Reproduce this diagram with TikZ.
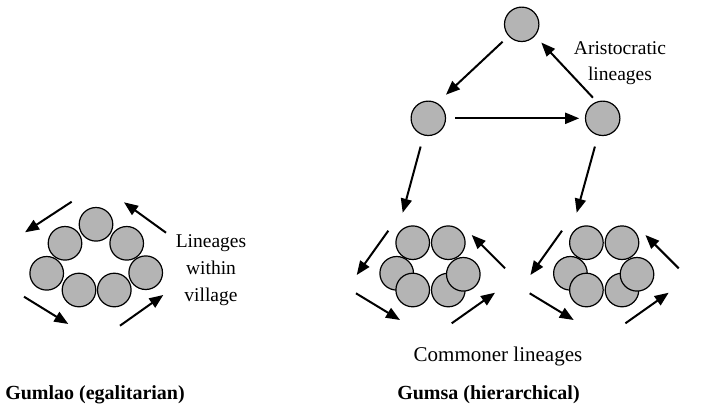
\documentclass[tikz,border=0pt]{standalone}
\usepackage{fontspec}
\setmainfont{Liberation Serif}
\usetikzlibrary{arrows.meta}
\definecolor{cfill}{RGB}{180,180,180}
\tikzset{
  lin/.style={circle, draw=black, fill=cfill, line width=1.2pt, minimum size=33.6pt, inner sep=0pt},
  arr/.style={line width=2pt, -{Triangle[length=14pt,width=11pt]}},
  lbl/.style={font=\fontsize{19.5}{22}\selectfont, anchor=base, inner sep=0pt},
  clbl/.style={font=\fontsize{21}{24}\selectfont, anchor=base, inner sep=0pt},
  blbl/.style={font=\fontsize{20}{24}\selectfont\bfseries, anchor=base, inner sep=0pt},
}
\begin{document}
\begin{tikzpicture}[x=1pt,y=-1pt]
\useasboundingbox (0,0) rectangle (701,408);

% ---------- Gumlao cluster ----------
\node[lin] (g1) at (96,224.3) {};
\node[lin] (g2) at (65,243.3) {};
\node[lin] (g3) at (126.7,243.3) {};
\node[lin] (g4) at (46.7,273.3) {};
\node[lin] (g5) at (145.7,272.7) {};
\node[lin] (g6) at (79,290) {};
\node[lin] (g7) at (114.3,290) {};

\coordinate (ga1s) at (71.7,201.7);  \coordinate (ga1e) at (25,232.3);
\coordinate (ga2s) at (166,232.7);   \coordinate (ga2e) at (124,202.3);
\coordinate (ga3s) at (24,296.7);    \coordinate (ga3e) at (68.3,324);
\coordinate (ga4s) at (120,325.7);   \coordinate (ga4e) at (163.3,295);
\draw[arr] (ga1s) -- (ga1e);
\draw[arr] (ga2s) -- (ga2e);
\draw[arr] (ga3s) -- (ga3e);
\draw[arr] (ga4s) -- (ga4e);

\node[lbl] (lv1) at (211,247.5) {Lineages};
\node[lbl] (lv2) at (211,274.5) {within};
\node[lbl] (lv3) at (211,301) {village};

% ---------- Aristocratic triangle ----------
\node[lin, minimum size=34.4pt] (T)  at (521.7,24.3) {};
\node[lin, minimum size=34.4pt] (ML) at (428.3,118.3) {};
\node[lin, minimum size=34.4pt] (MR) at (602.7,118.3) {};

\draw[arr, shorten <=8pt, shorten >=12pt] (T.222) -- (ML.60);
\draw[arr, shorten <=5.3pt, shorten >=9pt] (MR.110) -- (T.-41);
\draw[arr, shorten <=9pt, shorten >=5.7pt] (ML) -- (MR);

\node[lbl] (ar1) at (620,54) {Aristocratic};
\node[lbl] (ar2) at (620,80) {lineages};

\coordinate (dl) at (402.7,212.7);
\coordinate (dr) at (576.7,212.7);
\draw[arr, shorten <=11.5pt] (ML) -- (dl);
\draw[arr, shorten <=11.5pt] (MR) -- (dr);

% ---------- Commoner clusters ----------
\foreach \s/\n in {0/a, 173.7/b} {
  \node[lin] (\n tl) at (412.7+\s,242.7) {};
  \node[lin] (\n tr) at (448.3+\s,242.7) {};
  \node[lin] (\n ml) at (396.7+\s,273.3) {};
  \node[lin] (\n bl) at (412.7+\s,290) {};
  \node[lin] (\n br) at (448.3+\s,290) {};
  \node[lin] (\n mr) at (463.3+\s,274.3) {};
  \coordinate (\n a1s) at (388.3+\s,230.7); \coordinate (\n a1e) at (356.7+\s,275);
  \coordinate (\n a2s) at (505+\s,268.3);   \coordinate (\n a2e) at (471.7+\s,235);
  \coordinate (\n a3s) at (356+\s,293.3);   \coordinate (\n a3e) at (400+\s,320);
  \coordinate (\n a4s) at (451.7+\s,323.3); \coordinate (\n a4e) at (495+\s,292.7);
  \draw[arr] (\n a1s) -- (\n a1e);
  \draw[arr] (\n a2s) -- (\n a2e);
  \draw[arr] (\n a3s) -- (\n a3e);
  \draw[arr] (\n a4s) -- (\n a4e);
}

\node[clbl] (com) at (498,361.5) {Commoner lineages};

% ---------- Captions ----------
\node[blbl] (gumlao) at (95,399.5) {Gumlao (egalitarian)};
\node[blbl] (gumsa) at (488.5,399.5) {Gumsa (hierarchical)};
\end{tikzpicture}
\end{document}
